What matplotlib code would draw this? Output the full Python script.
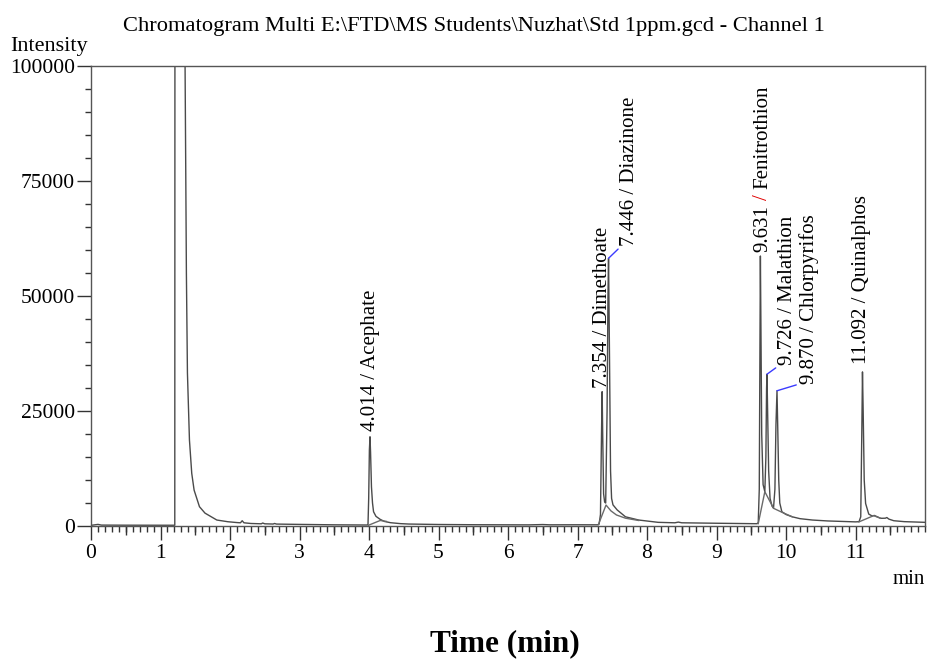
import numpy as np
import matplotlib
matplotlib.use('Agg')
import matplotlib.pyplot as plt
from matplotlib.ticker import MultipleLocator

# chromatogram trace (time in min, intensity)
trace_t = [0.00, 0.10, 0.15, 0.50, 1.00, 1.205, 1.21, 1.34, 1.353, 1.363, 1.372, 1.387,
           1.416, 1.449, 1.483, 1.56, 1.64, 1.81, 1.97, 2.10, 2.15, 2.175, 2.20, 2.30,
           2.45, 2.47, 2.50, 2.62, 2.64, 2.67, 3.00, 3.50, 3.97,
           3.985, 3.995, 4.005, 4.014, 4.022, 4.035, 4.05, 4.065, 4.10, 4.16, 4.22,
           4.31, 4.45, 4.57, 5.00, 5.50, 6.00, 6.30, 6.50, 6.60, 7.00, 7.29,
           7.31, 7.33, 7.345, 7.354, 7.362, 7.375, 7.39, 7.405, 7.425, 7.438, 7.446,
           7.458, 7.475, 7.49, 7.51, 7.57, 7.69, 7.88, 8.16, 8.40, 8.45, 8.50, 9.00,
           9.30, 9.58,
           9.60, 9.615, 9.625, 9.631, 9.638, 9.65, 9.67, 9.695, 9.71, 9.72, 9.726,
           9.735, 9.75, 9.77, 9.80, 9.82, 9.84, 9.855, 9.870, 9.88, 9.895, 9.91,
           9.94, 10.00, 10.09, 10.20, 10.38, 10.60, 10.80, 11.00, 11.05,
           11.075, 11.09, 11.10, 11.11, 11.125, 11.145, 11.19, 11.24, 11.27, 11.36,
           11.43, 11.45, 11.48, 11.55, 11.70, 12.00]
trace_i = [150, 350, 200, 180, 170, 170, 250000, 250000, 100000, 76700, 55000, 33300,
           18700, 11450, 7800, 4200, 2800, 1300, 930, 750, 700, 1150, 700, 550,
           480, 650, 480, 430, 550, 420, 350, 260, 220,
           300, 6000, 16500, 19400, 16000, 8500, 5000, 3100, 2100, 1450, 1000,
           720, 520, 430, 330, 280, 260, 250, 320, 260, 270, 260,
           400, 2500, 20000, 29200, 20000, 7000, 5200, 5000, 25000, 50000, 58200,
           40000, 12000, 6000, 4600, 3500, 2000, 1300, 800, 700, 850, 700, 600,
           550, 500,
           700, 8000, 40000, 58700, 45000, 20000, 9000, 7460, 15000, 30000, 33000,
           25000, 12000, 6000, 4300, 3900, 8000, 22000, 29400, 22000, 10000, 5000,
           3100, 2500, 2000, 1600, 1300, 1100, 1000, 900, 940,
           2000, 20000, 33500, 25000, 10000, 4900, 2600, 2170, 2300, 1670,
           1700, 1850, 1500, 1150, 950, 800]

# baseline humps under the peak groups (nan separates the pieces)
base_t = [3.99, 4.16, 4.25, np.nan,
          7.30, 7.41, 7.48, 7.56, 7.69, 7.88, np.nan,
          9.60, 9.695, 9.82, 9.94, 10.09, np.nan,
          11.05, 11.26, 11.36]
base_i = [150, 1200, 1000, np.nan,
          300, 4560, 3300, 2400, 1700, 1200, np.nan,
          500, 7460, 3850, 3000, 2000, np.nan,
          900, 2250, 1700]

peak_rt = [4.014, 7.354, 7.446, 9.631, 9.726, 9.870, 11.092]
peak_name = ['Acephate', 'Dimethoate', 'Diazinone', 'Fenitrothion',
             'Malathion', 'Chlorpyrifos', 'Quinalphos']
peak_height = [19400, 29200, 58200, 58700, 33000, 29400, 33500]

# label offsets in pixels, and whether a leader line is drawn
label_off = [(0, 6), (0, 4), (21, 12), (2, 4), (21, 9), (32, 7), (0, 8)]
leader = [False, False, True, False, True, True, False]
slash_color = ['black', 'black', 'black', '#e00000', 'black', 'black', 'black']

plt.rcParams['font.family'] = ['Liberation Serif', 'DejaVu Serif']

fig = plt.figure(figsize=(9.28, 6.59), dpi=100)
ax = fig.add_axes([0.0981, 0.2018, 0.8987, 0.698])
renderer = fig.canvas.get_renderer()

ax.plot(trace_t, trace_i, color='#4a4a4a', lw=1.0)
ax.plot(base_t, base_i, color='#6a6a6a', lw=1.0)


def text_length(s):
    t = ax.text(0, 0, s, fontsize=15, rotation=90)
    n = t.get_window_extent(renderer).height
    t.remove()
    return n


for rt, name, h, off, ld, sc in zip(peak_rt, peak_name, peak_height,
                                    label_off, leader, slash_color):
    full = f'{rt:.3f} / {name}'
    kw = dict(xy=(rt, h), textcoords='offset pixels', rotation=90,
              ha='center', va='bottom', fontsize=15, annotation_clip=False)
    if sc == 'black':
        arrow = None
        if ld:
            arrow = dict(arrowstyle='-', color='#3b3bff', lw=1.0,
                         shrinkA=0, shrinkB=0, relpos=(0.05, 0.0))
        ax.annotate(full, xytext=off, color='black', arrowprops=arrow, **kw)
    else:
        # draw in three pieces so the slash can take its own colour
        n_full = text_length(full)
        s_pos = n_full - text_length('/ ' + name)
        n_pos = n_full - text_length(name)
        ax.annotate(f'{rt:.3f}', xytext=off, color='black', **kw)
        ax.annotate('/', xytext=(off[0], off[1] + s_pos), color=sc, **kw)
        ax.annotate(name, xytext=(off[0], off[1] + n_pos), color='black', **kw)

ax.set_xlim(0, 12)
ax.set_ylim(0, 100000)
ax.set_xticks(np.arange(0, 12, 1))
ax.set_yticks([0, 25000, 50000, 75000, 100000])
ax.set_yticklabels(['0', '25000', '50000', '75000', '100000'])
ax.xaxis.set_minor_locator(MultipleLocator(0.1))
ax.yaxis.set_minor_locator(MultipleLocator(5000))
ax.tick_params(axis='both', which='major', length=10, width=1, color='#333333',
               labelsize=15.5, direction='out')
ax.tick_params(axis='both', which='minor', length=4, width=1, color='#333333',
               direction='out')
ax.tick_params(axis='y', which='major', pad=1.5)
ax.tick_params(axis='x', which='major', pad=3)

# half-minute ticks slightly longer
sec = ax.secondary_xaxis('bottom')
sec.set_xticks(np.arange(0.5, 12, 1))
sec.tick_params(length=6.5, width=1, color='#333333', labelbottom=False)
sec.spines['bottom'].set_visible(False)

for s in ax.spines.values():
    s.set_color('#555555')
    s.set_linewidth(1.0)

fig.text(474 / 928, 1 - 27 / 659,
         'Chromatogram Multi E:\\FTD\\MS Students\\Nuzhat\\Std 1ppm.gcd - Channel 1',
         ha='center', va='center', fontsize=16.2)
fig.text(10 / 928, 1 - 46 / 659, 'Intensity', ha='left', va='center', fontsize=16)
fig.text(925 / 928, 1 - 580 / 659, 'min', ha='right', va='center', fontsize=15)
fig.text(505 / 928, 1 - 644 / 659, 'Time (min)', ha='center', va='center',
         fontsize=22.5, fontweight='bold')

fig.savefig('out.png', dpi=100)
